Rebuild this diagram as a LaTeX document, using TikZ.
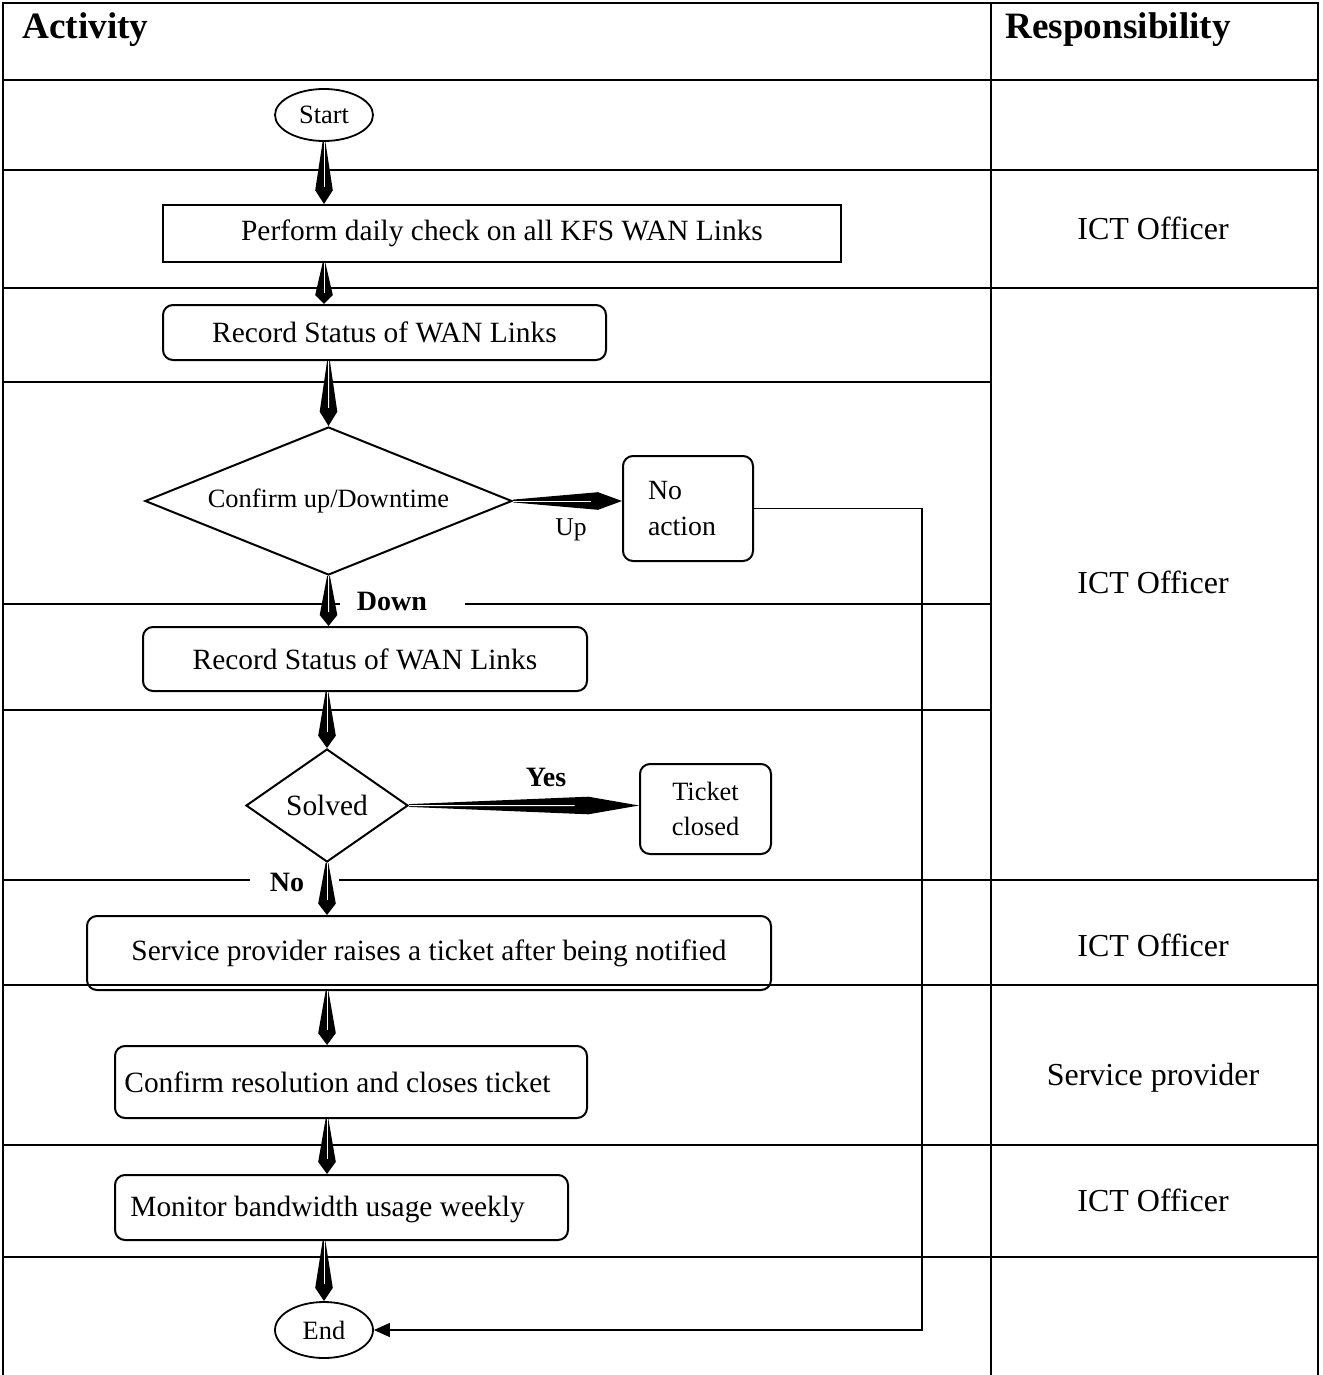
\documentclass[tikz,border=0pt]{standalone}
\usepackage{fontspec}
\setmainfont{Liberation Serif}
\usetikzlibrary{shapes.geometric,calc,arrows.meta}

\newcommand\fbody{\fontsize{14.7pt}{18pt}\selectfont}
\newcommand\fsmall{\fontsize{13.2pt}{17.5pt}\selectfont}
\newcommand\fresp{\fontsize{16pt}{19pt}\selectfont}
\newcommand\fhead{\fontsize{18.6pt}{22pt}\selectfont\bfseries}
\newcommand\flab{\fontsize{14pt}{17pt}\selectfont\bfseries}

% tapered kite-shaped connector with a white centre line
\newcommand\kitearrow[2]{%
  \coordinate (ka) at (#1);
  \coordinate (kb) at (#2);
  \fill ($(ka)!0.7pt!90:(kb)$) -- ($(ka)!0.78!(kb)!4.4pt!90:(kb)$) -- (kb)
        -- ($(ka)!0.78!(kb)!4.4pt!-90:(kb)$) -- ($(ka)!0.7pt!-90:(kb)$) -- cycle;
  \draw[white, line width=0.5pt] (ka) -- ($(ka)!0.72!(kb)$);
}

\begin{document}
\begin{tikzpicture}[x=0.5pt, y=-0.5pt,
  gridline/.style={line width=1.2pt},
  box/.style={draw, line width=1pt, rounded corners=5pt, inner sep=2pt, font=\fbody},
  sbox/.style={draw, line width=1pt, inner sep=2pt, font=\fbody},
  ell/.style={ellipse, draw, line width=0.9pt, inner sep=0pt, font=\fsmall},
  dia/.style={diamond, draw, line width=1pt, inner sep=0pt},
  lab/.style={font=\flab, inner sep=1pt},
  resp/.style={font=\fresp},
  boxtext/.style={font=\fbody, anchor=west, inner sep=0pt},
  loopline/.style={line width=0.6pt}]

\useasboundingbox (0,0) rectangle (1322,1375);

% table frame
\draw[gridline] (3,1375) -- (3,3) -- (1318,3) -- (1318,1375);
\draw[gridline] (991,3) -- (991,1375);
\foreach \y in {80,170,288,985,1145,1257}
  \draw[gridline] (3,\y) -- (1318,\y);
\foreach \y in {382,710}
  \draw[gridline] (3,\y) -- (991,\y);
\draw[gridline] (3,604) -- (340,604);
\draw[gridline] (465,604) -- (991,604);
\draw[gridline] (3,880) -- (250,880);
\draw[gridline] (339,880) -- (1318,880);

% headings
\node[font=\fhead, anchor=base west, inner sep=0pt] (hact) at (22,39) {Activity};
\node[font=\fhead, anchor=base west, inner sep=0pt] (hresp) at (1005,39) {Responsibility};

% responsibility column
\node[resp] (r1) at (1153,228) {ICT Officer};
\node[resp] (r2) at (1153,582) {ICT Officer};
\node[resp] (r3) at (1153,945) {ICT Officer};
\node[resp] (r4) at (1153,1078) {Service provider};
\node[resp] (r5) at (1153,1200) {ICT Officer};

% flow nodes
\node[ell, minimum width=49pt, minimum height=26pt] (start) at (324,115) {Start};
\node[sbox, minimum width=339pt, minimum height=28.5pt] (perform) at (502,233.5) {Perform daily check on all KFS WAN Links};
\node[box, minimum width=221.5pt, minimum height=27.5pt] (rec1) at (384.5,332.5) {Record Status of WAN Links};
\node[dia, shape aspect=2.5, minimum width=183.5pt, minimum height=74pt, font=\fsmall] (confirm) at (328.5,501) {Confirm up/Downtime};
\node[box, minimum width=65pt, minimum height=52.5pt, text width=40pt, align=left, font=\fontsize{13.9pt}{18pt}\selectfont] (noact) at (688,508.5) {No\\action};
\node[font=\fontsize{12.8pt}{15pt}\selectfont] (up) at (571,530) {Up};
\node[lab] (down) at (392,601) {Down};
\node[box, minimum width=222pt, minimum height=32pt] (rec2) at (365,659) {Record Status of WAN Links};
\node[dia, shape aspect=1.43, minimum width=81pt, minimum height=56.5pt, font=\fbody] (solved) at (327,805.5) {Solved};
\node[lab] (yes) at (546,777) {Yes};
\node[box, minimum width=65.5pt, minimum height=45pt, align=center, font=\fsmall] (ticket) at (705.5,809) {Ticket\\closed};
\node[lab] (no) at (287,882) {No};
\node[box, minimum width=342pt, minimum height=37pt] (service) at (429,953) {Service provider raises a ticket after being notified};
\node[box, minimum width=236pt, minimum height=36pt] (resol) at (351,1082) {};
\node[boxtext] (resoltext) at ([xshift=5pt]resol.west) {Confirm resolution and closes ticket};
\node[box, minimum width=226.5pt, minimum height=32.5pt] (monitor) at (341.5,1207.5) {};
\node[boxtext] (monitortext) at ([xshift=8pt, yshift=-1pt]monitor.west) {Monitor bandwidth usage weekly};
\node[ell, minimum width=49pt, minimum height=28pt] (end) at (324,1330) {End};

% connectors
\kitearrow{start.south}{start.south |- perform.north}
\kitearrow{start.south |- perform.south}{start.south |- rec1.north}
\kitearrow{confirm.north |- rec1.south}{confirm.north}
\kitearrow{confirm.east}{confirm.east -| noact.west}
\kitearrow{confirm.south}{confirm.south |- rec2.north}
\kitearrow{solved.north |- rec2.south}{solved.north}
\kitearrow{solved.east}{solved.east -| ticket.west}
\kitearrow{solved.south}{solved.south |- service.north}
\kitearrow{solved.south |- service.south}{solved.south |- resol.north}
\kitearrow{solved.south |- resol.south}{solved.south |- monitor.north}
\kitearrow{end.north |- monitor.south}{end.north}

% return path from "No action" to End
\coordinate (rail) at (922,0);
\draw[loopline, -{Triangle[length=8pt, width=7pt]}]
  (noact.east) -- (noact.east -| rail) -- (rail |- end.east) -- (end.east);

\end{tikzpicture}
\end{document}
